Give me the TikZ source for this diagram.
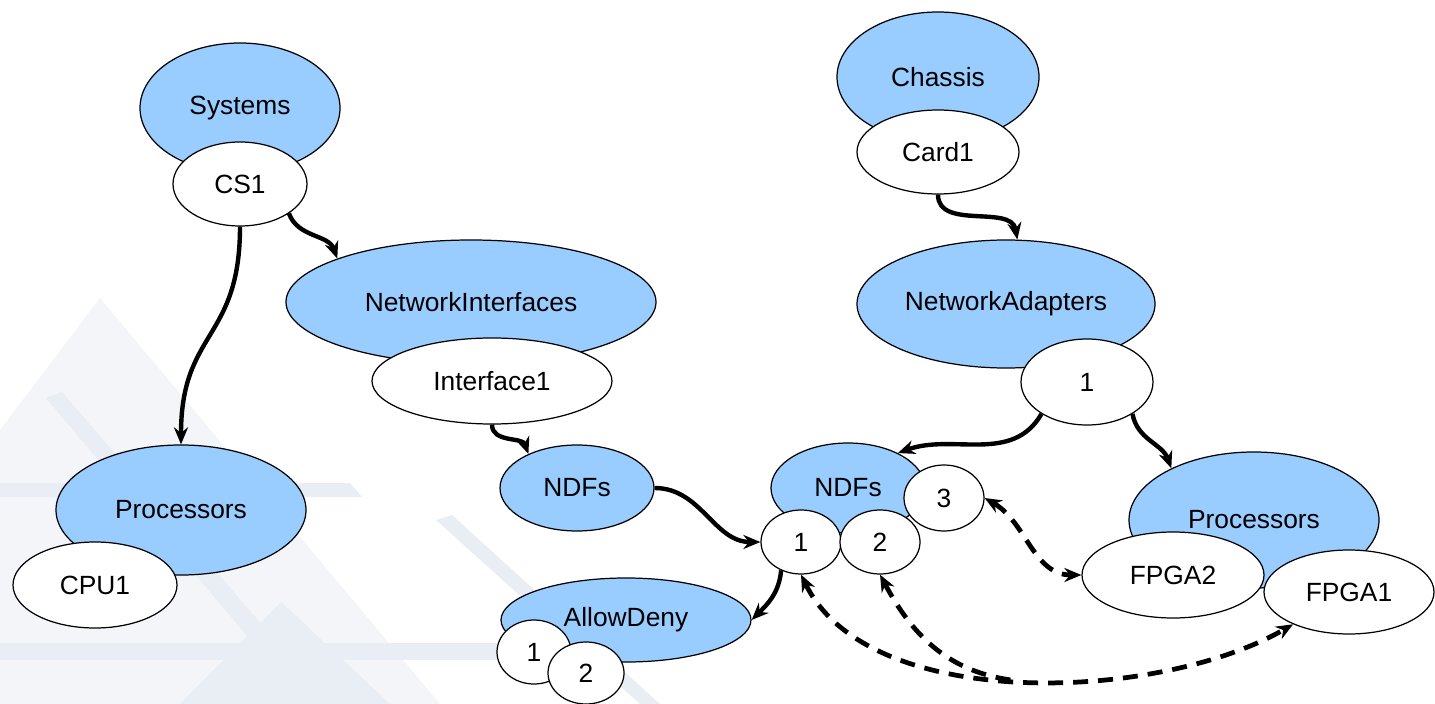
\documentclass[tikz,border=0pt]{standalone}
\usepackage{fontspec}
\setmainfont{Liberation Sans}
\usetikzlibrary{shapes,arrows.meta,positioning}
\definecolor{classblue}{HTML}{99CCFF}
\definecolor{wmlight}{HTML}{F4F5F9}
\definecolor{wmband}{HTML}{E9EDF4}

\begin{document}
\begin{tikzpicture}[x=0.2mm,y=-0.2mm,node distance=1cm,auto,
    font=\fontsize{15}{18}\selectfont,
    >={Stealth[length=3.4mm,width=2.8mm]},
    class/.style={ellipse,draw,line width=0.7pt,fill=classblue,inner sep=0pt},
    inst/.style={ellipse,draw,line width=0.7pt,fill=white,inner sep=0pt},
    link/.style={line width=2.5pt},
    ref/.style={line width=2.7pt,dash pattern=on 3mm off 2mm}]
      \useasboundingbox (0,0) rectangle (1435,704);
      \fill[wmlight] (100,298) -- (440,704) -- (0,704) -- (0,430) -- cycle;
      \fill[wmband] (0,483) -- (350,483) -- (362,497) -- (0,497) -- cycle;
      \fill[wmband] (0,643) -- (520,643) -- (520,660) -- (0,660) -- cycle;
      \fill[wmband] (46,398) -- (62,392) -- (330,704) -- (305,704) -- cycle;
      \fill[wmband] (281,602) -- (390,704) -- (180,704) -- cycle;
      \fill[wmband] (436,520) -- (452,515) -- (660,704) -- (640,704) -- cycle;
      \node (sys) [class,minimum width=40mm,minimum height=26mm] at (240,108) {Systems};
      \node (cs1) [inst,minimum width=26.8mm,minimum height=16.8mm,below of=sys,node distance=15.2mm] {CS1};
      \node (chassis) [class,minimum width=40.4mm,minimum height=26mm] at (938,77) {Chassis};
      \node (card1) [inst,minimum width=32.4mm,minimum height=16.8mm,below of=chassis,node distance=15mm] {Card1};
      \node (ni) [class,minimum width=74mm,minimum height=24.8mm] at (471,302) {NetworkInterfaces};
      \node (if1) [inst,minimum width=48mm,minimum height=17.2mm] at (492,381) {Interface1};
      \node (na) [class,minimum width=59.6mm,minimum height=25.6mm] at (1006,304) {NetworkAdapters};
      \node (na1) [inst,minimum width=26.4mm,minimum height=17.2mm] at (1087,382) {1};
      \node (proc1) [class,minimum width=50mm,minimum height=26mm] at (181,510) {Processors};
      \node (cpu1) [inst,minimum width=32.8mm,minimum height=17.2mm] at (95,585) {CPU1};
      \node (ndfa) [class,minimum width=30.8mm,minimum height=17.2mm] at (577,488) {NDFs};
      \node (ndfb) [class,minimum width=30.8mm,minimum height=18mm] at (848,488) {NDFs};
      \node (p3) [inst,minimum width=16mm,minimum height=13.2mm] at (944,498) {3};
      \node (p1) [inst,minimum width=16mm,minimum height=12.8mm] at (801,542) {1};
      \node (p2) [inst,minimum width=16mm,minimum height=12.8mm,right of=p1,node distance=15.8mm] {2};
      \node (ad) [class,minimum width=50mm,minimum height=16.8mm] at (626,620) {AllowDeny};
      \node (ad1) [inst,minimum width=14.8mm,minimum height=12.8mm] at (534,652) {1};
      \node (ad2) [inst,minimum width=15.2mm,minimum height=12.4mm] at (586,673) {2};
      \node (proc2) [class,minimum width=50mm,minimum height=27.2mm] at (1254,520) {Processors};
      \node (fpga2) [inst,minimum width=36.4mm,minimum height=17.2mm] at (1173,575) {FPGA2};
      \node (fpga1) [inst,minimum width=34mm,minimum height=16.8mm] at (1349,592) {FPGA1};
      \draw[link,->] (cs1.south) to[out=-90,in=90,looseness=1.3] (proc1.north);
      \draw[link,->] (cs1.-31) to[out=-70,in=110] (ni.162);
      \draw[link,->] (if1.south) to[out=-90,in=110] (ndfa.145);
      \draw[link,->] (card1.south) to[out=-90,in=100] (na.80);
      \draw[link,->] (na1.215) to[out=240,in=20] (ndfb.35);
      \draw[link,->] (na1.-35) to[out=-80,in=110] (proc2.148);
      \draw[link,->] (ndfa.east) to[out=0,in=180] (p1.west);
      \draw[link,->] (p1.235) to[out=-95,in=45] (ad.east);
      \draw[ref,<->] (p3.east) to[out=-30,in=180] (fpga2.west);
      \draw[ref,<->] (p1.south) to[out=-64,in=-150,looseness=0.8] coordinate[pos=0.48] (join) (fpga1.210);
      \draw[ref,<-] (p2.south) to[out=-62,in=172] (join);
\end{tikzpicture}
\end{document}
